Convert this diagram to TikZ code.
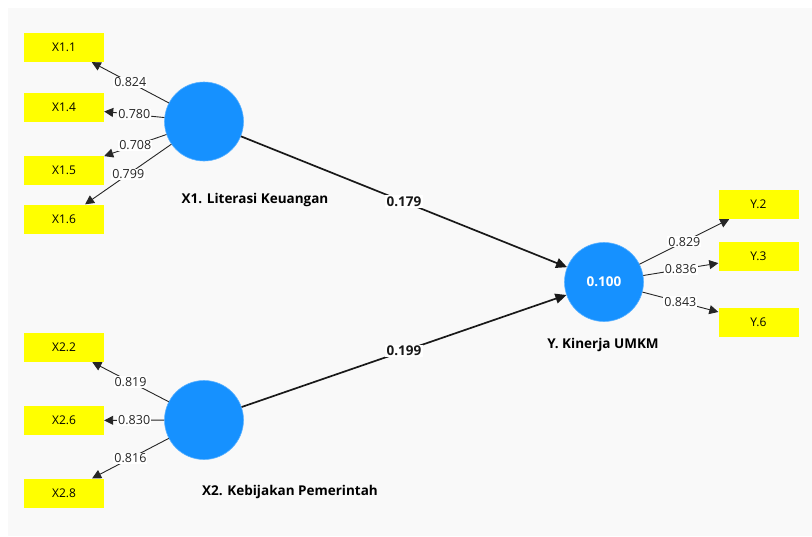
\documentclass[tikz,border=0pt]{standalone}
\usepackage{fontspec}
\setmainfont{Open Sans}
\usetikzlibrary{arrows.meta}
\definecolor{bgc}{RGB}{249,249,249}
\definecolor{lv}{RGB}{22,145,255}
\definecolor{ind}{RGB}{255,255,0}
\begin{document}
\begin{tikzpicture}[x=1pt,y=-1pt,
  lat/.style={circle,fill=lv,draw=lv!70!white,line width=0.6pt,minimum size=79pt,inner sep=0pt},
  indbox/.style={rectangle,fill=ind,minimum width=80pt,minimum height=29pt,inner sep=0pt,font=\fontsize{12}{13}\selectfont},
  lname/.style={font=\bfseries\fontsize{13.5}{15}\selectfont,inner sep=0pt},
  load/.style={-{Triangle[length=9pt,width=9pt]},line width=0.9pt,black!85},
  path/.style={-{Triangle[length=11pt,width=10pt]},line width=1.7pt,black!90},
  lw/.style={fill=white,inner sep=1pt,font=\fontsize{12.5}{13}\selectfont},
  pw/.style={fill=white,inner sep=1.5pt,font=\bfseries\fontsize{13.5}{14}\selectfont}]
\useasboundingbox (0,0) rectangle (812,536);
\fill[white] (0,0) rectangle (812,536);
\fill[bgc] (8,8) rectangle (812,536);
% latent variables
\node[lat] (X1) at (204,121.5) {};
\node[lat] (X2) at (204,420) {};
\node[lat,text=white,font=\bfseries\fontsize{13.5}{15}\selectfont] (Y) at (604,282) {0.100};
\node[lname] (X1n) at (255,200) {X1. Literasi Keuangan};
\node[lname] (X2n) at (290,492) {X2. Kebijakan Pemerintah};
\node[lname] (Yn) at (603,345) {Y. Kinerja UMKM};
% indicators
\node[indbox] (x11) at (64,47.5) {X1.1};
\node[indbox] (x14) at (64,107.5) {X1.4};
\node[indbox] (x15) at (64,170) {X1.5};
\node[indbox] (x16) at (64,219) {X1.6};
\node[indbox] (x22) at (64,347.5) {X2.2};
\node[indbox] (x26) at (64,420.5) {X2.6};
\node[indbox] (x28) at (64,493) {X2.8};
\node[indbox] (y2) at (758.5,204.5) {Y.2};
\node[indbox] (y3) at (758.5,256.5) {Y.3};
\node[indbox] (y6) at (758.5,322.5) {Y.6};
% loadings
\draw[load] (X1) -- node[lw] {0.824} (x11);
\draw[load] (X1) -- node[lw] {0.780} (x14);
\draw[load] (X1) -- node[lw] {0.708} (x15);
\draw[load] (X1) -- node[lw] {0.799} (x16);
\draw[load] (X2) -- node[lw] {0.819} (x22);
\draw[load] (X2) -- node[lw] {0.830} (x26);
\draw[load] (X2) -- node[lw] {0.816} (x28);
\draw[load] (Y) -- node[lw] {0.829} (y2);
\draw[load] (Y) -- node[lw] {0.836} (y3);
\draw[load] (Y) -- node[lw] {0.843} (y6);
% paths
\draw[path] (X1) -- node[pw] {0.179} (Y);
\draw[path] (X2) -- node[pw] {0.199} (Y);
\end{tikzpicture}
\end{document}
